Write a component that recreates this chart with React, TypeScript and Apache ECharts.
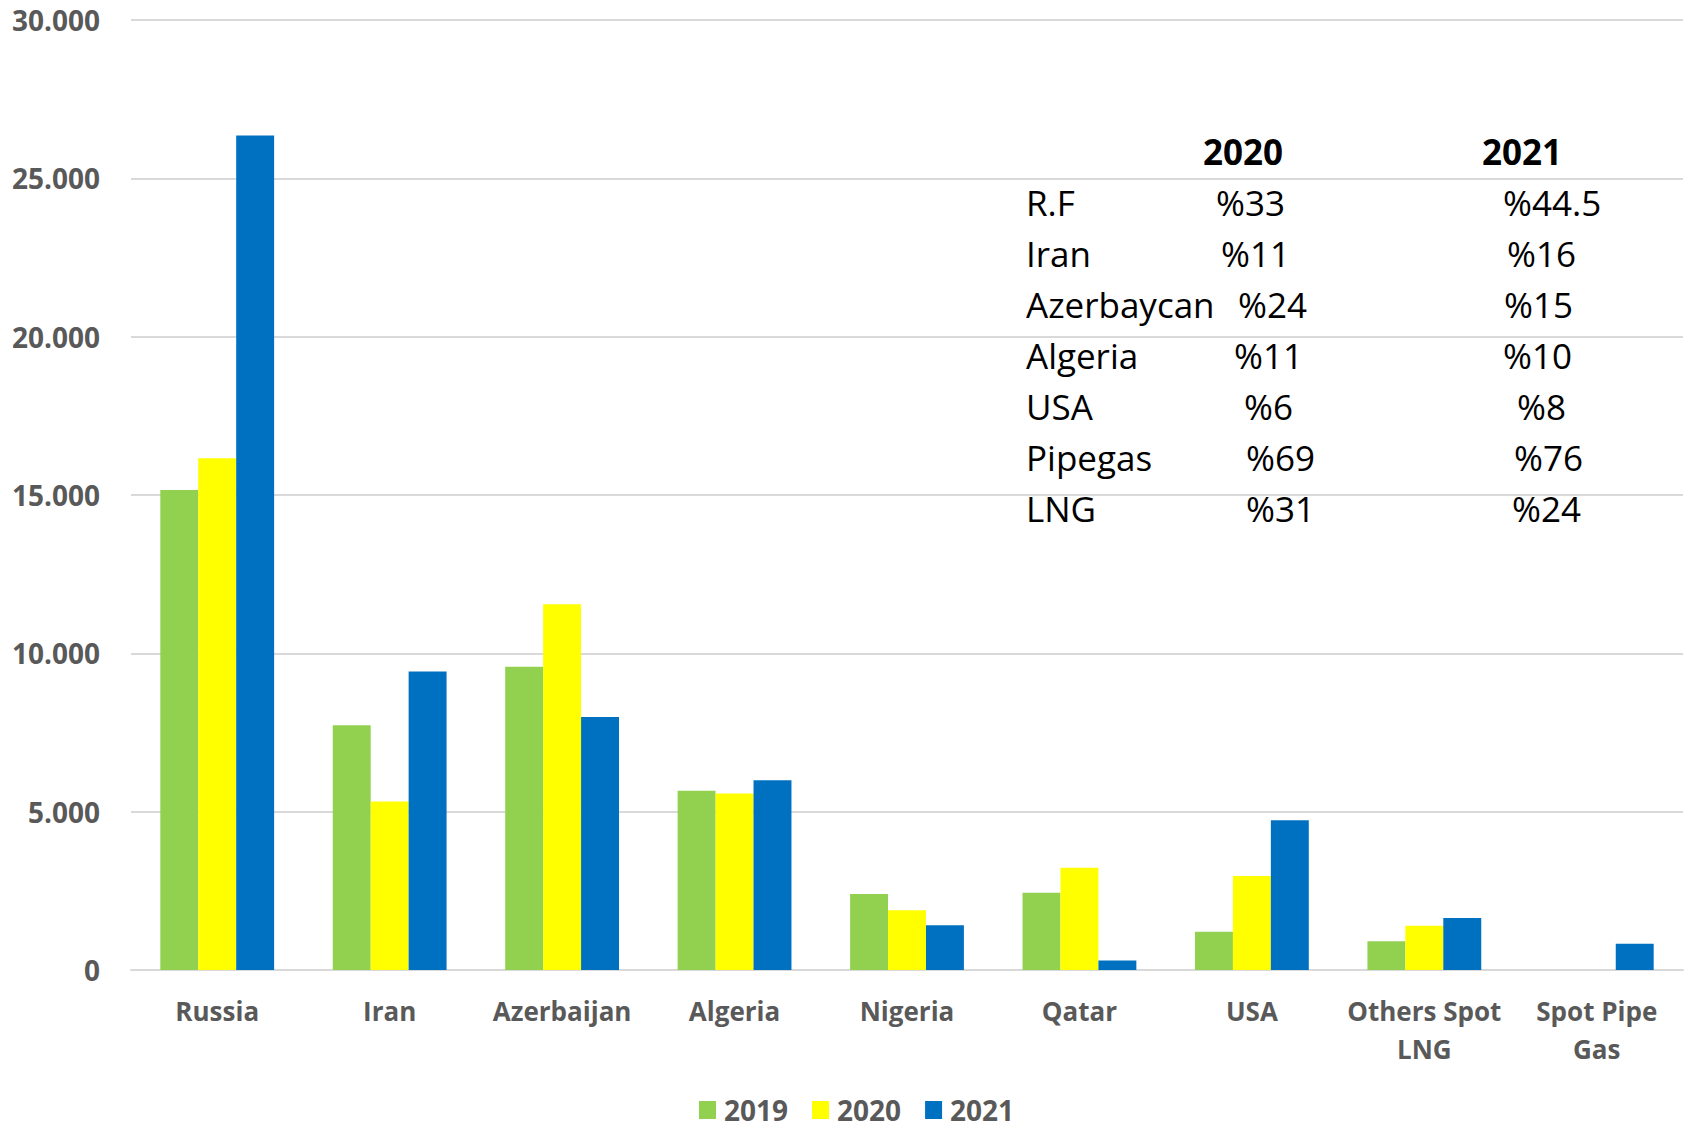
import React, { useEffect, useRef } from "react";
import * as echarts from "echarts";

const categories = [
  "Russia",
  "Iran",
  "Azerbaijan",
  "Algeria",
  "Nigeria",
  "Qatar",
  "USA",
  "Others Spot\nLNG",
  "Spot Pipe\nGas",
];
const seriesNames = ["2019", "2020", "2021"];
const v2019 = [15160, 7730, 9580, 5660, 2400, 2440, 1210, 910, null];
const v2020 = [16160, 5320, 11550, 5570, 1890, 3230, 2970, 1400, null];
const v2021 = [26350, 9430, 7990, 5990, 1410, 300, 4730, 1640, 830];
const colors = ["#92D050", "#FFFF00", "#0070C0"];

const tableHeaders = ["2020", "2021"];
const tableLabels = ["R.F", "Iran", "Azerbaycan", "Algeria", "USA", "Pipegas", "LNG"];
const table2020 = ["%33", "%11", "%24", "%11", "%6", "%69", "%31"];
const table2021 = ["%44.5", "%16", "%15", "%10", "%8", "%76", "%24"];

// layout of the annotation table (pixel positions)
const tableX0 = 1026;
const col2020X = [1216, 1221, 1238, 1234, 1244, 1246, 1246];
const col2021X = [1503, 1507, 1504, 1503, 1517, 1514, 1512];
const headerX = [1243, 1522];
const headerY = 151;
const rowY = [202, 253, 304, 355, 406, 457, 508];

const fmt = (v: number) => String(v).replace(/\B(?=(\d{3})+(?!\d))/g, ".");

export default function App() {
  const ref = useRef<HTMLDivElement>(null);
  useEffect(() => {
    if (!ref.current) return;
    const chart = echarts.init(ref.current, null, { renderer: "svg" });
    const font = "Open Sans";
    const textStyle = (t: string, x: number, y: number, bold: boolean, align: string) => ({
      type: "text",
      x,
      y,
      style: {
        text: t,
        fontFamily: font,
        fontSize: 35,
        fontWeight: bold ? "bold" : "normal",
        fill: "#000000",
        textAlign: align,
        textVerticalAlign: "middle",
        align,
        verticalAlign: "middle",
      },
    });
    const graphics: any[] = [];
    tableHeaders.forEach((h, i) => graphics.push(textStyle(h, headerX[i], headerY, true, "center")));
    tableLabels.forEach((l, i) => {
      graphics.push(textStyle(l, tableX0, rowY[i], false, "left"));
      graphics.push(textStyle(table2020[i], col2020X[i], rowY[i], false, "left"));
      graphics.push(textStyle(table2021[i], col2021X[i], rowY[i], false, "left"));
    });

    const data = [v2019, v2020, v2021];
    chart.setOption({
      animation: false,
      backgroundColor: "#ffffff",
      grid: { left: 131, right: 9, top: 20, bottom: 158, containLabel: false },
      legend: {
        data: seriesNames,
        left: 699,
        top: 1092,
        padding: 0,
        itemWidth: 17,
        itemHeight: 18,
        itemGap: 24,
        icon: "rect",
        textStyle: {
          fontFamily: font,
          fontWeight: "bold",
          fontSize: 28,
          lineHeight: 36,
          color: "#595959",
          padding: [0, 0, 0, 3],
        },
      },
      xAxis: {
        type: "category",
        data: categories,
        axisLine: { show: true, lineStyle: { color: "#D9D9D9", width: 2 } },
        axisTick: { show: false },
        axisLabel: {
          interval: 0,
          margin: 22,
          fontFamily: font,
          fontWeight: "bold",
          fontSize: 26,
          lineHeight: 38,
          color: "#595959",
        },
      },
      yAxis: {
        type: "value",
        min: 0,
        max: 30000,
        interval: 5000,
        axisLine: { show: false },
        axisTick: { show: false },
        splitLine: { lineStyle: { color: "#D9D9D9", width: 2 } },
        axisLabel: {
          margin: 31,
          fontFamily: font,
          fontWeight: "bold",
          fontSize: 28,
          color: "#595959",
          formatter: (v: number) => fmt(v),
        },
      },
      series: seriesNames.map((name, i) => ({
        name,
        type: "bar",
        data: data[i],
        barGap: "0%",
        barCategoryGap: "34%",
        itemStyle: { color: colors[i] },
      })),
      graphic: graphics,
    });
    return () => chart.dispose();
  }, []);
  return (
    <div
      ref={ref}
      style={{ position: "fixed", left: 0, top: 0, width: 1692, height: 1128, background: "#fff" }}
    />
  );
}
